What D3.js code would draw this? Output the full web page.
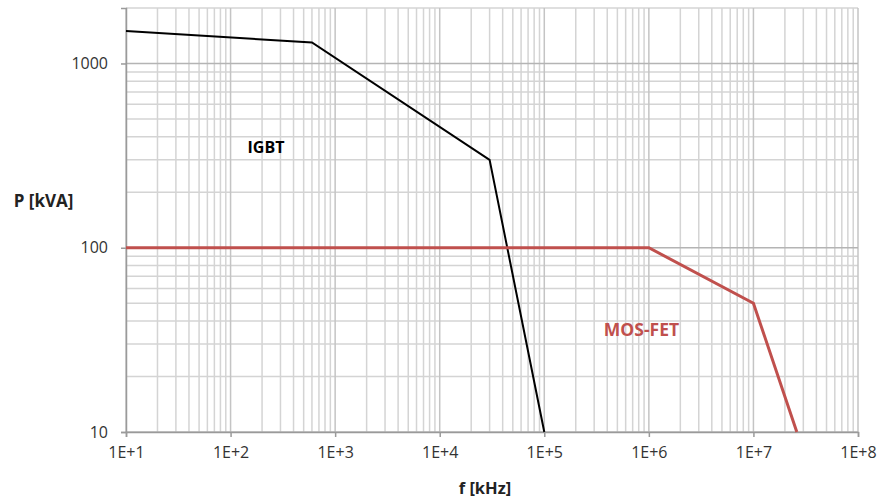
<!DOCTYPE html>
<html>
<head>
<meta charset="utf-8">
<script src="https://cdn.jsdelivr.net/npm/d3@7"></script>
<style>
  body { margin: 0; background: #fff; }
  text { font-family: "Open Sans", "Liberation Sans", sans-serif; }
</style>
</head>
<body>
<div id="chart"></div>
<script>
// data (f in kHz, P in kVA)
var igbtF = [10, 600, 30000, 100000];
var igbtP = [1500, 1300, 300, 10];
var mosF = [10, 1e6, 1e7, 2.6e7];
var mosP = [100, 100, 50, 10];
var xTicks = [1e1, 1e2, 1e3, 1e4, 1e5, 1e6, 1e7, 1e8];
var xTickLabels = ["1E+1", "1E+2", "1E+3", "1E+4", "1E+5", "1E+6", "1E+7", "1E+8"];
var yTicks = [10, 100, 1000];

var svgWidth = 878, svgHeight = 501;
var margin = { top: 8, right: 20, bottom: 69, left: 126 };
var width = 858 - margin.left;
var height = 432 - margin.top;

var svg = d3.select("#chart").append("svg")
  .attr("width", svgWidth)
  .attr("height", svgHeight);
var g = svg.append("g").attr("transform", `translate(${margin.left}, ${margin.top})`);

var x = d3.scaleLog().domain([10, 1e8]).range([0, width]);
var y = d3.scaleLog().domain([10, 2000]).range([height, 0]);

// minor grid values
var xMinor = [];
for (var e = 1; e < 8; e++) for (var k = 2; k <= 9; k++) xMinor.push(k * Math.pow(10, e));
var yMinor = [];
for (var e2 = 1; e2 < 4; e2++) for (var k2 = 2; k2 <= 9; k2++) {
  var v = k2 * Math.pow(10, e2);
  if (v <= 2000) yMinor.push(v);
}

g.append("g").selectAll("line").data(xMinor).enter().append("line")
  .attr("x1", d => x(d)).attr("x2", d => x(d))
  .attr("y1", 0).attr("y2", height)
  .attr("stroke", "#d4d4d4").attr("stroke-width", 1.5);
g.append("g").selectAll("line").data(yMinor).enter().append("line")
  .attr("x1", 0).attr("x2", width)
  .attr("y1", d => y(d)).attr("y2", d => y(d))
  .attr("stroke", "#d4d4d4").attr("stroke-width", 1.5);
// major grid
g.append("g").selectAll("line").data(xTicks).enter().append("line")
  .attr("x1", d => x(d)).attr("x2", d => x(d))
  .attr("y1", 0).attr("y2", height)
  .attr("stroke", "#c4c4c4").attr("stroke-width", 1.5);
g.append("g").selectAll("line").data(yTicks).enter().append("line")
  .attr("x1", 0).attr("x2", width)
  .attr("y1", d => y(d)).attr("y2", d => y(d))
  .attr("stroke", "#b4b4b4").attr("stroke-width", 1.5);

// axes
var bottomAxis = d3.axisBottom(x).tickValues(xTicks)
  .tickFormat((d, i) => xTickLabels[i]).tickSize(5).tickPadding(10);
var leftAxis = d3.axisLeft(y).tickValues(yTicks)
  .tickFormat(d3.format("d")).tickSize(5).tickPadding(13);

var xa = g.append("g").attr("transform", `translate(0, ${height})`).call(bottomAxis);
var ya = g.append("g").call(leftAxis);
[xa, ya].forEach(a => {
  a.select(".domain").attr("stroke", "#9a9a9a").attr("stroke-width", 1.5);
  a.selectAll(".tick line").attr("stroke", "#9a9a9a").attr("stroke-width", 1.5);
  a.selectAll(".tick text").attr("fill", "#333").style("font-size", "16px");
});

// series
var line = d3.line().x(d => x(d[0])).y(d => y(d[1]));
g.append("path").datum(igbtF.map((f, i) => [f, igbtP[i]]))
  .attr("d", line).attr("fill", "none")
  .attr("stroke", "#000").attr("stroke-width", 2);
g.append("path").datum(mosF.map((f, i) => [f, mosP[i]]))
  .attr("d", line).attr("fill", "none")
  .attr("stroke", "#c0504d").attr("stroke-width", 3);

// labels
g.append("text").attr("x", x(218)).attr("y", y(327))
  .attr("text-anchor", "middle").style("font-size", "16px").style("font-weight", "bold")
  .attr("fill", "#000").text("IGBT");
g.append("text").attr("x", x(8.5e5)).attr("y", y(33))
  .attr("text-anchor", "middle").style("font-size", "17.5px").style("font-weight", "bold")
  .attr("fill", "#c0504d").text("MOS-FET");

svg.append("text").attr("x", 43.5).attr("y", 207)
  .attr("text-anchor", "middle")
  .style("font-size", "17px").style("font-weight", "bold")
  .attr("fill", "#222").text("P [kVA]");
svg.append("text").attr("x", 485).attr("y", 494)
  .attr("text-anchor", "middle")
  .style("font-size", "16.5px").style("font-weight", "bold")
  .attr("fill", "#222").text("f [kHz]");
</script>
</body>
</html>
